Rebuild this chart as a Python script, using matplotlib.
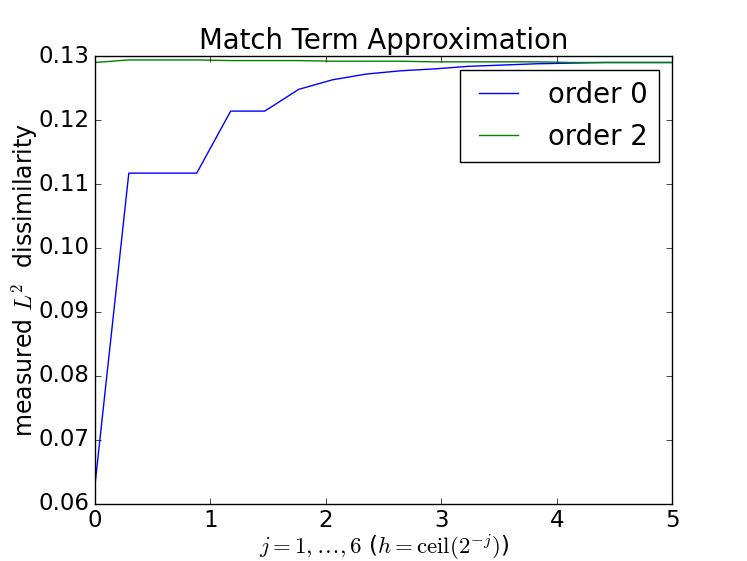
import numpy as np
import matplotlib
matplotlib.use("Agg")
import matplotlib.pyplot as plt

# sample positions along x (18 evenly spaced samples)
x_vals = [0.000, 0.294, 0.588, 0.882, 1.176, 1.471, 1.765, 2.059, 2.353,
          2.647, 2.941, 3.235, 3.529, 3.824, 4.118, 4.412, 4.706, 5.000]
order0 = [0.0628, 0.1117, 0.1117, 0.1117, 0.1214, 0.1214, 0.1248, 0.1263, 0.1272,
          0.1277, 0.1280, 0.1284, 0.1286, 0.1288, 0.1289, 0.1290, 0.1290, 0.1290]
order2 = [0.1290, 0.1294, 0.1294, 0.1294, 0.1293, 0.1293, 0.1293, 0.1292, 0.1292,
          0.1292, 0.1291, 0.1291, 0.1291, 0.1291, 0.1290, 0.1290, 0.1290, 0.1290]
y_ticks = [0.06, 0.07, 0.08, 0.09, 0.10, 0.11, 0.12, 0.13]

plt.style.use("classic")
plt.rcParams["font.size"] = 16.5

fig, ax = plt.subplots(figsize=(7.47, 5.61), dpi=100)
fig.subplots_adjust(left=0.127, right=0.9, bottom=0.102, top=0.9)

ax.plot(x_vals, order0, "b-", label="order 0")
ax.plot(x_vals, order2, "g-", label="order 2")

ax.set_xlim(0, 5)
ax.set_ylim(0.06, 0.13)
ax.set_yticks(y_ticks)
ax.set_title("Match Term Approximation")
ax.set_ylabel(r"measured $L^2$  dissimilarity", fontsize=17, labelpad=-1)
ax.set_xlabel(r"$j=1,\ldots,6$ ($h=\mathrm{ceil}(2^{-j})$)", fontsize=16.5, labelpad=0)
ax.legend(loc="upper right")

fig.savefig("out.png", dpi=100)
plt.close(fig)
